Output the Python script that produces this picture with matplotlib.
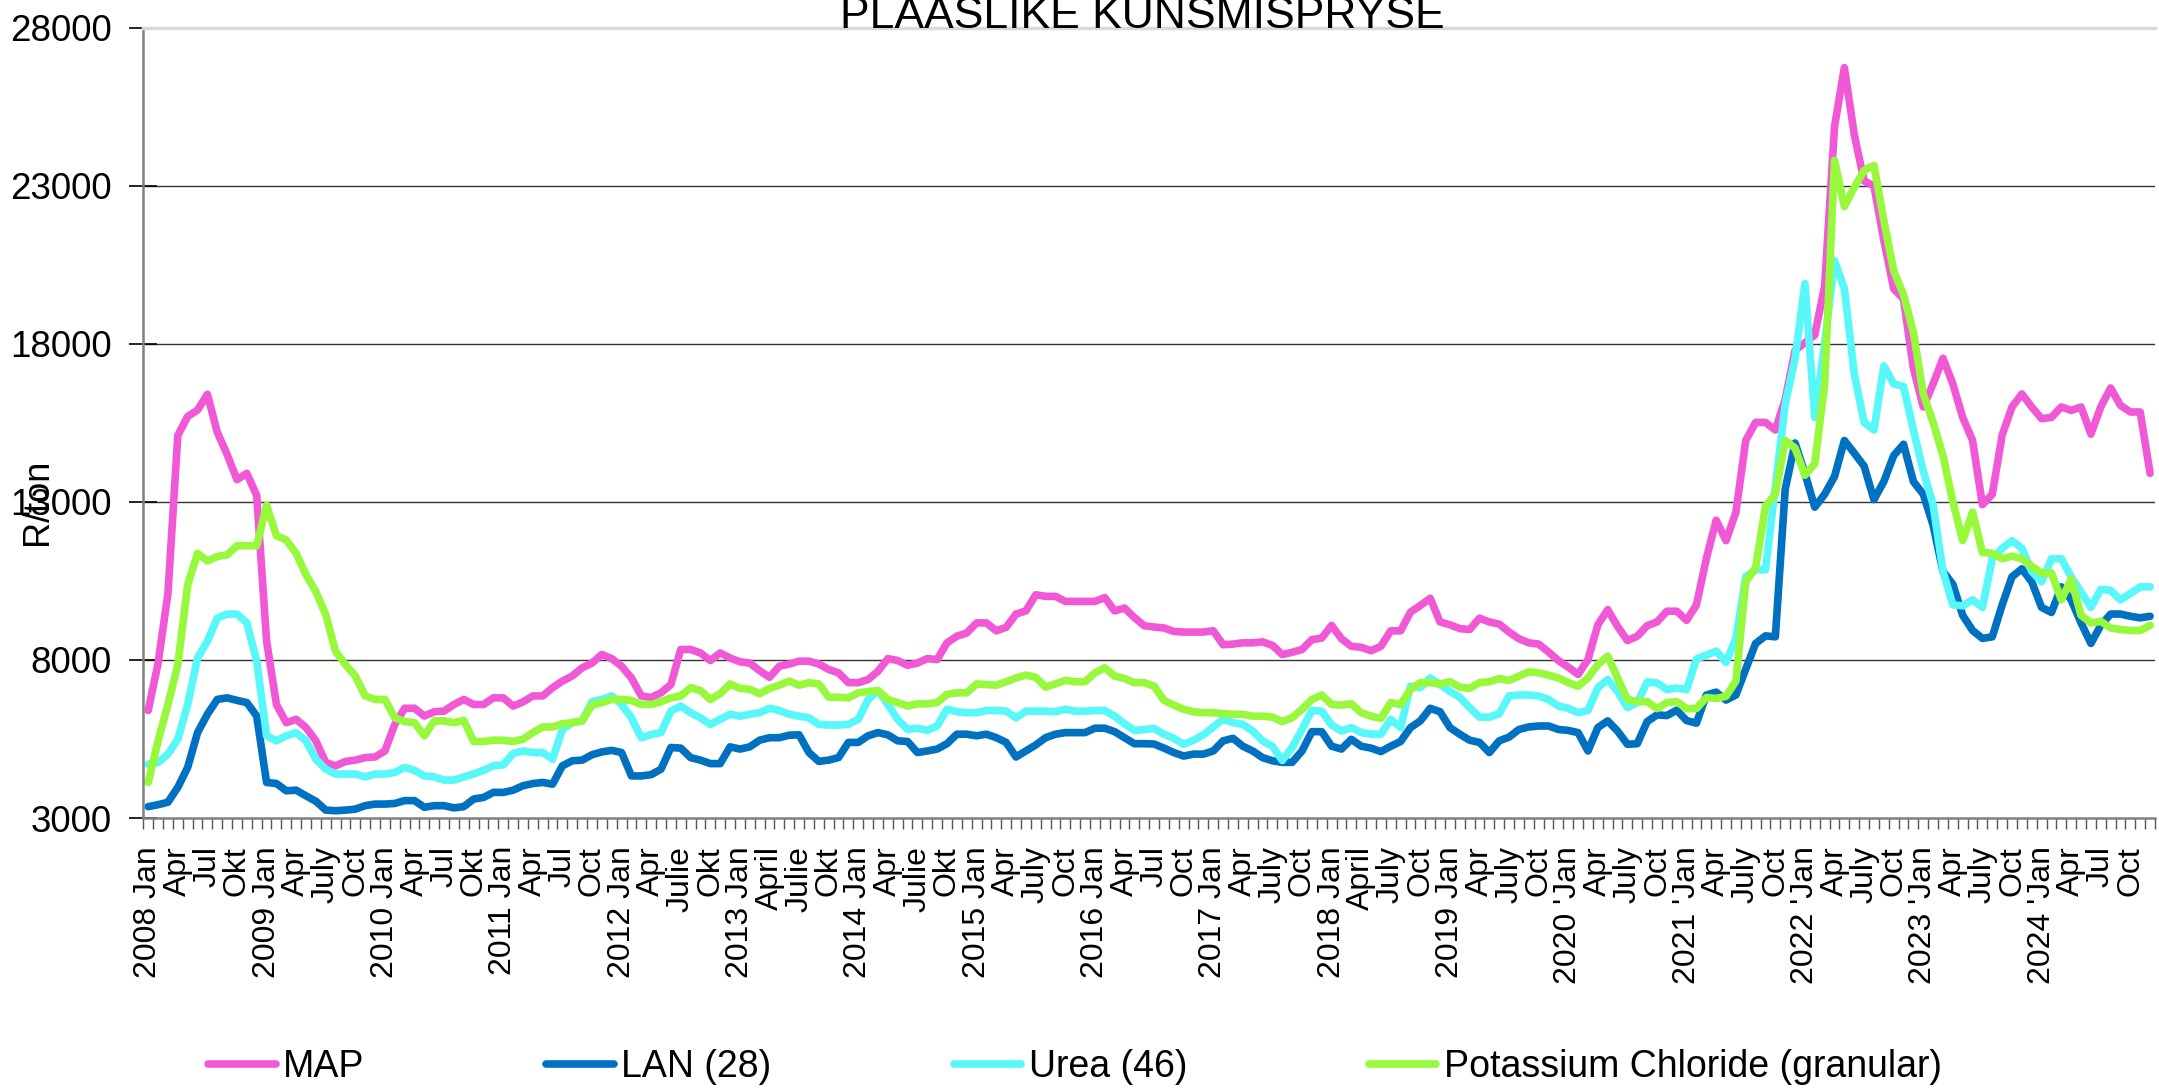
import matplotlib
matplotlib.use("Agg")
import matplotlib.pyplot as plt
import numpy as np

plt.rcParams['font.family'] = ['Liberation Sans', 'DejaVu Sans']

# ---------------- data (R/ton, monthly Jan 2008 - Dec 2024) ----------------
years = [str(y) for y in range(2008, 2025)]
month_labels = [
    ["Jan", "Apr", "Jul", "Okt"],      # 2008
    ["Jan", "Apr", "July", "Oct"],     # 2009
    ["Jan", "Apr", "Jul", "Okt"],      # 2010
    ["Jan", "Apr", "Jul", "Oct"],      # 2011
    ["Jan", "Apr", "Julie", "Okt"],    # 2012
    ["Jan", "April", "Julie", "Okt"],  # 2013
    ["Jan", "Apr", "Julie", "Okt"],    # 2014
    ["Jan", "Apr", "July", "Oct"],     # 2015
    ["Jan", "Apr", "Jul", "Oct"],      # 2016
    ["Jan", "Apr", "July", "Oct"],     # 2017
    ["Jan", "April", "July", "Oct"],   # 2018
    ["Jan", "Apr", "July", "Oct"],     # 2019
    ["'Jan", "Apr", "July", "Oct"],    # 2020
    ["'Jan", "Apr", "July", "Oct"],    # 2021
    ["'Jan", "Apr", "July", "Oct"],    # 2022
    ["'Jan", "Apr", "July", "Oct"],    # 2023
    ["'Jan", "Apr", "Jul", "Oct"],     # 2024
]

map_prices = [
    6400, 7900, 10100, 15100, 15700, 15900, 16400, 15200, 14500, 13700, 13900, 13200,
    8600, 6590, 6015, 6120, 5860, 5440, 4755, 4650, 4790, 4830, 4910, 4930,
    5120, 5960, 6470, 6470, 6225, 6360, 6380, 6590, 6750, 6590, 6590, 6800,
    6800, 6540, 6670, 6860, 6860, 7120, 7330, 7490, 7750, 7900, 8170, 8040,
    7800, 7430, 6860, 6810, 6960, 7220, 8330, 8330, 8220, 7980, 8220, 8060,
    7940, 7900, 7660, 7450, 7800, 7870, 7960, 7960, 7870, 7700, 7590, 7280,
    7280, 7380, 7640, 8040, 7980, 7830, 7900, 8040, 8010, 8540, 8750, 8850,
    9170, 9170, 8920, 9030, 9450, 9550, 10060, 10010, 10010, 9850, 9850, 9850,
    9850, 9970, 9550, 9640, 9340, 9080, 9040, 9010, 8900, 8880, 8880, 8880,
    8920, 8480, 8500, 8540, 8540, 8570, 8460, 8170, 8240, 8330, 8640, 8690,
    9090, 8670, 8430, 8400, 8290, 8430, 8920, 8920, 9510, 9720, 9950, 9200,
    9110, 8990, 8960, 9320, 9200, 9130, 8880, 8670, 8540, 8500, 8250, 7980,
    7770, 7540, 8010, 9110, 9590, 9060, 8610, 8750, 9080, 9200, 9540, 9540,
    9250, 9740, 11200, 12420, 11770, 12670, 14940, 15510, 15510, 15270, 16240, 17790,
    18030, 18280, 19820, 24860, 26730, 24620, 23150, 22990, 21280, 19740, 19410, 17220,
    16000, 16730, 17540, 16730, 15670, 14940, 12910, 13240, 15110, 16000, 16410, 16000,
    15630, 15670, 16000, 15890, 16000, 15140, 16000, 16600, 16050, 15840, 15840, 13900,
]

lan_prices = [
    3360, 3420, 3500, 3970, 4600, 5700, 6280, 6750, 6800, 6720, 6650, 6225,
    4125, 4090, 3860, 3880, 3700, 3530, 3250, 3230, 3250, 3280, 3390, 3440,
    3440, 3460, 3550, 3550, 3340, 3390, 3390, 3320, 3360, 3600, 3650, 3810,
    3810, 3880, 4020, 4090, 4125, 4070, 4650, 4810, 4830, 5000, 5090, 5140,
    5070, 4330, 4330, 4370, 4545, 5230, 5210, 4910, 4830, 4720, 4720, 5250,
    5180, 5250, 5460, 5540, 5540, 5620, 5630, 5070, 4790, 4830, 4910, 5390,
    5390, 5600, 5700, 5630, 5440, 5420, 5070, 5120, 5180, 5350, 5650, 5650,
    5600, 5650, 5540, 5390, 4930, 5120, 5310, 5540, 5650, 5700, 5700, 5700,
    5840, 5840, 5730, 5540, 5350, 5350, 5340, 5210, 5070, 4960, 5020, 5020,
    5120, 5440, 5520, 5270, 5120, 4910, 4810, 4760, 4760, 5120, 5730, 5730,
    5270, 5180, 5490, 5270, 5210, 5100, 5270, 5420, 5860, 6070, 6470, 6360,
    5860, 5650, 5460, 5390, 5070, 5440, 5560, 5800, 5880, 5910, 5910, 5800,
    5770, 5700, 5120, 5860, 6070, 5750, 5330, 5350, 6050, 6260, 6240, 6410,
    6080, 6000, 6890, 6980, 6730, 6890, 7710, 8520, 8760, 8730, 13400, 14860,
    13900, 12830, 13240, 13800, 14940, 14540, 14130, 13070, 13640, 14460, 14820, 13640,
    13240, 12260, 10800, 10390, 9410, 8930, 8680, 8730, 9740, 10630, 10880, 10470,
    9660, 9500, 10310, 9900, 9170, 8520, 9090, 9450, 9450, 9380, 9330, 9380,
]

urea_prices = [
    4700, 4755, 5020, 5490, 6590, 8060, 8590, 9320, 9450, 9450, 9170, 7960,
    5600, 5440, 5600, 5700, 5440, 4860, 4545, 4390, 4390, 4390, 4300, 4390,
    4390, 4440, 4600, 4510, 4330, 4300, 4200, 4200, 4300, 4390, 4510, 4650,
    4680, 5040, 5120, 5070, 5070, 4860, 5800, 6015, 6070, 6680, 6750, 6860,
    6590, 6170, 5540, 5640, 5700, 6380, 6540, 6330, 6170, 5960, 6120, 6280,
    6220, 6280, 6330, 6470, 6400, 6280, 6220, 6170, 5960, 5940, 5940, 5960,
    6120, 6750, 7030, 6590, 6120, 5800, 5840, 5770, 5910, 6440, 6360, 6330,
    6330, 6400, 6400, 6380, 6170, 6380, 6380, 6380, 6360, 6440, 6380, 6380,
    6400, 6400, 6220, 5980, 5770, 5800, 5830, 5650, 5520, 5330, 5460, 5630,
    5880, 6120, 6015, 5960, 5750, 5440, 5270, 4820, 5230, 5800, 6400, 6380,
    5940, 5750, 5860, 5700, 5650, 5650, 6120, 5860, 7170, 7120, 7430, 7220,
    7000, 6820, 6490, 6190, 6190, 6300, 6860, 6890, 6890, 6860, 6750, 6540,
    6470, 6330, 6400, 7120, 7380, 7000, 6490, 6650, 7300, 7270, 7060, 7110,
    7060, 8030, 8150, 8280, 7920, 8680, 10630, 10850, 10850, 13480, 16080, 17540,
    19900, 15670, 18000, 20630, 19740, 17060, 15510, 15270, 17300, 16730, 16650, 15270,
    13970, 12910, 10800, 9740, 9710, 9900, 9660, 11200, 11530, 11770, 11530, 10800,
    10470, 11200, 11200, 10630, 10150, 9660, 10230, 10200, 9900, 10100, 10310, 10310,
]

kcl_prices = [
    4125, 5440, 6590, 7850, 10370, 11370, 11130, 11270, 11320, 11610, 11610, 11610,
    12890, 11930, 11790, 11370, 10690, 10160, 9430, 8270, 7850, 7490, 6860, 6750,
    6750, 6170, 6050, 6015, 5600, 6070, 6070, 6015, 6090, 5420, 5420, 5460,
    5460, 5420, 5490, 5700, 5880, 5880, 5980, 6015, 6070, 6570, 6650, 6750,
    6750, 6720, 6590, 6590, 6680, 6800, 6860, 7120, 7030, 6750, 6930, 7240,
    7100, 7070, 6930, 7100, 7200, 7330, 7200, 7280, 7240, 6820, 6820, 6800,
    6960, 7000, 7030, 6750, 6650, 6540, 6610, 6610, 6650, 6910, 6960, 6960,
    7240, 7220, 7200, 7310, 7430, 7520, 7450, 7140, 7240, 7350, 7310, 7310,
    7590, 7750, 7490, 7410, 7280, 7280, 7170, 6720, 6570, 6440, 6360, 6330,
    6330, 6300, 6280, 6280, 6220, 6220, 6190, 6050, 6170, 6440, 6750, 6890,
    6590, 6570, 6610, 6330, 6220, 6150, 6650, 6590, 7070, 7280, 7280, 7240,
    7310, 7140, 7100, 7280, 7310, 7410, 7350, 7490, 7620, 7590, 7520, 7430,
    7280, 7170, 7430, 7850, 8120, 7430, 6750, 6680, 6680, 6460, 6650, 6680,
    6460, 6460, 6810, 6780, 6850, 7330, 10470, 10910, 12860, 13240, 14940, 14700,
    13840, 14210, 16730, 23800, 22340, 22940, 23480, 23640, 21900, 20310, 19550, 18360,
    16410, 15510, 14460, 13000, 11770, 12670, 11400, 11370, 11200, 11280, 11200, 10960,
    10750, 10750, 9900, 10550, 9410, 9170, 9220, 9010, 8960, 8930, 8930, 9090,
]

series_names = ["MAP", "LAN (28)", "Urea (46)", "Potassium Chloride (granular)"]
series_values = [map_prices, lan_prices, urea_prices, kcl_prices]
series_colors = ["#F158D6", "#0070C0", "#58F8FA", "#98F83C"]

y_ticks = [3000, 8000, 13000, 18000, 23000, 28000]
title_text = "PLAASLIKE KUNSMISPRYSE"
y_label = "R/ton"

# ---------------- figure ----------------
W, H = 2159, 1090
fig = plt.figure(figsize=(W / 100, H / 100), dpi=100)
left, right, top, bottom = 143.3, 2155, 27.5, 818
ax = fig.add_axes([left / W, 1 - bottom / H, (right - left) / W, (bottom - top) / H])

n = len(map_prices)
x = np.arange(n)
lines = []
for name, vals, col in zip(series_names, series_values, series_colors):
    ln, = ax.plot(x, vals, color=col, lw=5.5, label=name,
                  solid_joinstyle='round', solid_capstyle='round')
    lines.append(ln)

ax.set_xlim(-0.5, n - 0.5)
ax.set_ylim(y_ticks[0], y_ticks[-1])

# y axis
ax.set_yticks(y_ticks)
ax.set_yticklabels([str(v) for v in y_ticks], fontsize=26.5)
ax.tick_params(axis='y', direction='inout', length=20, width=1.2, pad=12.5, colors='black')
for v in y_ticks[1:-1]:
    ax.axhline(v, color='#333333', lw=1.0, zorder=0)

# x axis: month ticks between categories, labels every 3 months
ax.set_xticks(np.arange(-0.5, n, 1), minor=True)
major_pos = []
major_lab = []
for yi, (yr, mlabs) in enumerate(zip(years, month_labels)):
    for q, m in enumerate(mlabs):
        major_pos.append(yi * 12 + q * 3)
        major_lab.append(f"{yr} {m}" if q == 0 else m)
ax.set_xticks(major_pos)
ax.set_xticklabels(major_lab, rotation=90, fontsize=23)
ax.tick_params(axis='x', which='major', length=0, pad=20)
ax.tick_params(axis='x', which='minor', direction='out', length=8, width=1.0, color='#555555')

ax.spines['right'].set_visible(False)
ax.spines['top'].set_color('#D9D9D9')
ax.spines['top'].set_linewidth(2.5)
ax.spines['left'].set_color('#808080')
ax.spines['left'].set_linewidth(1.8)
ax.spines['bottom'].set_color('#808080')
ax.spines['bottom'].set_linewidth(1.8)

# title (partly above the figure top, as in the reference)
fig.text(1142 / W, 1 - 28 / H, title_text, fontsize=32, ha='center', va='baseline')
# y label overlapping tick labels, as in the reference
fig.text(37 / W, 1 - 502 / H, y_label, fontsize=26, rotation=90, ha='center', va='center')

fig.legend(handles=lines, loc='center', bbox_to_anchor=(1075 / W, 1 - 1067 / H),
           ncol=4, frameon=False, fontsize=27, handlelength=1.8, handletextpad=0.2,
           columnspacing=4.85, borderaxespad=0, borderpad=0)

fig.savefig("out.png", dpi=100)
